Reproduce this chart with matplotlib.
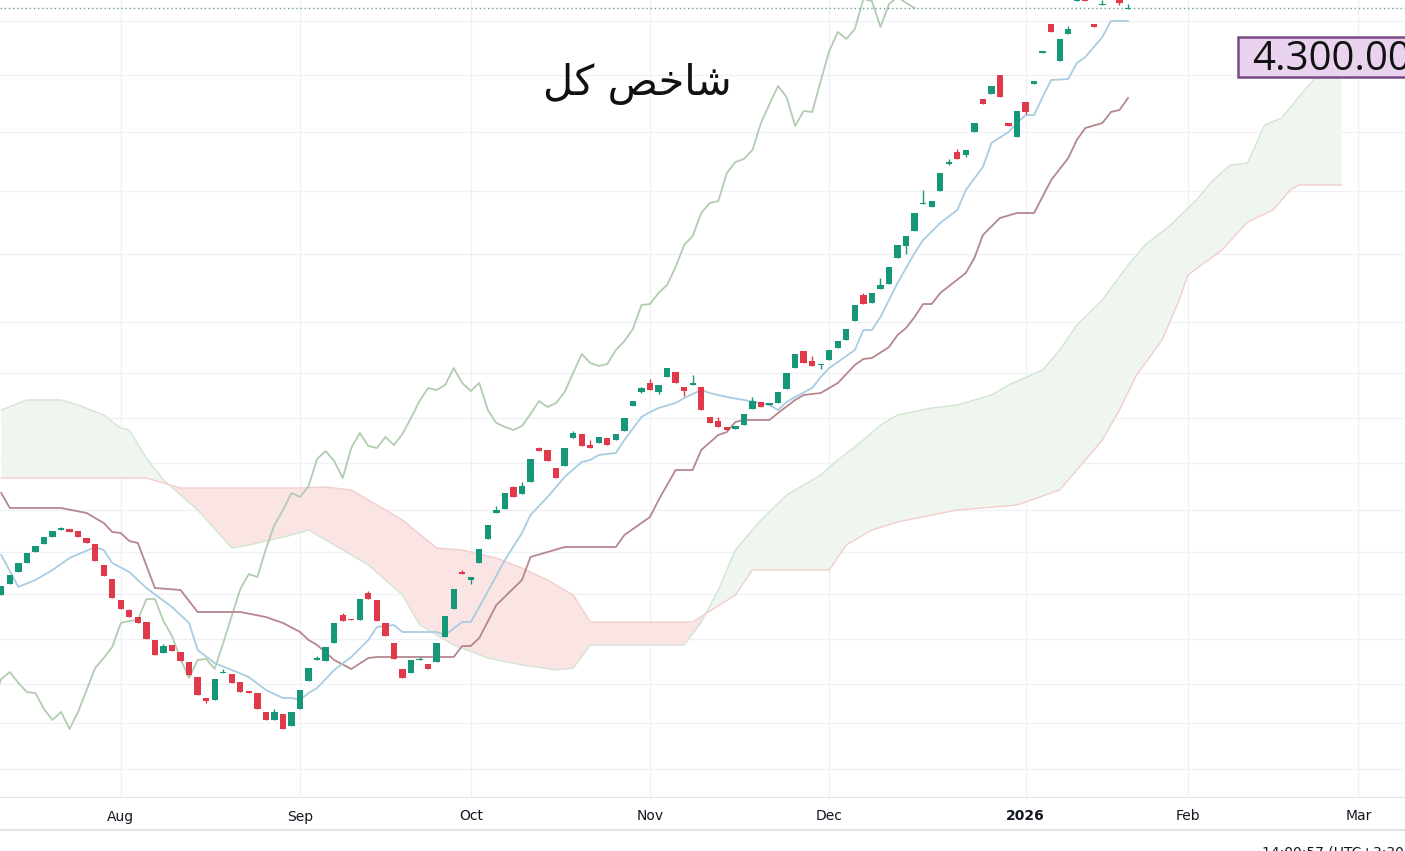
# Total index (شاخص کل) daily candles with Ichimoku cloud

import numpy as np
import matplotlib.pyplot as plt
from matplotlib.lines import Line2D

# daily candles (index 0 = first bar on screen), values in thousands
opens = [3210, 3232, 3256, 3274, 3296, 3312, 3326, 3340, 3342, 3338,
         3324, 3312, 3270, 3242, 3200, 3180, 3166, 3156, 3120, 3094,
         3110, 3096, 3076, 3046, 3004, 3000, 3054, 3052, 3036, 3018,
         3014, 2976, 2960, 2972, 2948, 2982, 3038, 3080, 3078, 3114,
         3170, 3162, 3160, 3214, 3200, 3154, 3114, 3062, 3054, 3080,
         3072, 3076, 3126, 3182, 3256, 3240, 3274, 3322, 3374, 3382,
         3426, 3412, 3436, 3504, 3500, 3464, 3468, 3524, 3532, 3510,
         3514, 3524, 3520, 3538, 3588, 3616, 3634, 3616, 3646, 3656,
         3626, 3630, 3626, 3566, 3558, 3546, 3542, 3550, 3582, 3596,
         3590, 3594, 3622, 3664, 3698, 3678, 3670, 3680, 3704, 3720,
         3758, 3810, 3794, 3822, 3832, 3884, 3908, 3938, 3992, 3986,
         4018, 4072, 4096, 4090, 4136, 4202, 4212, 4250, 4154, 4126,
         4196, 4232, 4294, 4352, 4278, 4332, 4398, 4404, 4352, 4390,
         4416, 4400, 4382]
highs = [3228, 3250, 3274, 3294, 3308, 3326, 3338, 3346, 3342, 3338,
         3324, 3312, 3270, 3242, 3200, 3182, 3166, 3156, 3120, 3112,
         3110, 3096, 3076, 3046, 3004, 3042, 3062, 3052, 3036, 3018,
         3014, 2976, 2982, 2972, 2976, 3020, 3064, 3088, 3106, 3154,
         3174, 3162, 3202, 3218, 3200, 3154, 3114, 3062, 3080, 3086,
         3072, 3114, 3168, 3222, 3260, 3246, 3302, 3350, 3388, 3414,
         3428, 3436, 3482, 3506, 3500, 3464, 3504, 3538, 3532, 3520,
         3526, 3524, 3532, 3564, 3598, 3626, 3642, 3630, 3664, 3656,
         3626, 3650, 3626, 3566, 3566, 3546, 3548, 3572, 3606, 3596,
         3594, 3616, 3654, 3692, 3698, 3688, 3672, 3700, 3718, 3742,
         3790, 3814, 3814, 3844, 3866, 3910, 3928, 3974, 4020, 3998,
         4054, 4082, 4102, 4100, 4154, 4202, 4228, 4250, 4154, 4178,
         4196, 4238, 4298, 4352, 4322, 4348, 4412, 4404, 4352, 4400,
         4416, 4400, 4392]
lows = [3210, 3232, 3256, 3274, 3296, 3312, 3326, 3340, 3336, 3326,
        3314, 3278, 3248, 3204, 3182, 3166, 3154, 3122, 3090, 3094,
        3098, 3078, 3050, 3010, 2994, 3000, 3054, 3034, 3016, 3014,
        2982, 2960, 2960, 2942, 2948, 2982, 3038, 3080, 3078, 3114,
        3158, 3160, 3160, 3202, 3158, 3128, 3082, 3044, 3054, 3080,
        3062, 3076, 3126, 3182, 3252, 3232, 3274, 3322, 3374, 3382,
        3406, 3412, 3436, 3498, 3478, 3444, 3468, 3524, 3508, 3504,
        3514, 3510, 3520, 3538, 3588, 3614, 3620, 3612, 3646, 3634,
        3608, 3630, 3580, 3554, 3546, 3540, 3542, 3550, 3582, 3586,
        3590, 3594, 3622, 3664, 3674, 3668, 3662, 3680, 3704, 3720,
        3758, 3792, 3794, 3822, 3832, 3884, 3892, 3938, 3992, 3986,
        4018, 4070, 4082, 4086, 4136, 4192, 4212, 4206, 4148, 4126,
        4172, 4232, 4294, 4336, 4278, 4332, 4398, 4398, 4346, 4390,
        4406, 4390, 4382]
closes = [3228, 3250, 3274, 3294, 3308, 3326, 3338, 3344, 3336, 3326,
          3314, 3278, 3248, 3204, 3182, 3166, 3154, 3122, 3090, 3108,
          3098, 3078, 3050, 3010, 2998, 3042, 3056, 3034, 3016, 3014,
          2982, 2960, 2976, 2942, 2976, 3020, 3064, 3084, 3106, 3154,
          3158, 3160, 3202, 3202, 3158, 3128, 3082, 3044, 3080, 3082,
          3062, 3114, 3168, 3222, 3252, 3246, 3302, 3350, 3380, 3414,
          3406, 3428, 3482, 3498, 3478, 3444, 3504, 3534, 3508, 3504,
          3526, 3510, 3532, 3564, 3598, 3624, 3620, 3630, 3664, 3634,
          3618, 3634, 3580, 3554, 3546, 3540, 3548, 3572, 3598, 3586,
          3594, 3616, 3654, 3692, 3674, 3668, 3672, 3700, 3718, 3742,
          3790, 3792, 3814, 3830, 3866, 3910, 3928, 3974, 3994, 3998,
          4054, 4076, 4082, 4100, 4154, 4192, 4228, 4206, 4148, 4178,
          4176, 4238, 4298, 4336, 4322, 4342, 4402, 4398, 4346, 4392,
          4406, 4394, 4384]

# Ichimoku lines, read as (bar index, value) vertices
tenkan_x = [0, 2, 4, 6, 8, 11, 12, 13, 15, 17, 20, 22, 23, 25, 27, 29, 31, 33, 34, 35,
            36, 37, 39, 41, 43, 44, 46, 47, 51, 52, 54, 55, 56, 59, 61, 62, 64, 66, 68, 69,
            70, 72, 73, 75, 76, 77, 79, 80, 82, 83, 85, 87, 90, 91, 92, 93, 95, 96, 97, 100,
            101, 102, 103, 105, 107, 108, 110, 112, 113, 115, 116, 118, 119, 120, 121, 122, 123, 125, 126, 127,
            129, 130, 132]
tenkan = [3290, 3226, 3240, 3260, 3284, 3306, 3300, 3274, 3256, 3224, 3186, 3154, 3100, 3074, 3060, 3046, 3020, 3004, 3004, 3000,
          3014, 3024, 3060, 3086, 3120, 3146, 3150, 3136, 3136, 3130, 3156, 3156, 3186, 3280, 3334, 3370, 3406, 3446, 3476, 3480,
          3490, 3494, 3520, 3566, 3576, 3584, 3594, 3604, 3620, 3614, 3606, 3600, 3590, 3580, 3596, 3606, 3624, 3646, 3664, 3700,
          3740, 3740, 3766, 3834, 3894, 3920, 3954, 3980, 4020, 4066, 4114, 4136, 4154, 4170, 4170, 4206, 4240, 4242, 4274, 4286,
          4326, 4358, 4358]

kijun_x = [0, 1, 7, 10, 12, 13, 14, 15, 16, 18, 21, 23, 28, 31, 33, 35, 36, 37, 39, 41,
           43, 44, 53, 54, 55, 56, 58, 61, 62, 66, 72, 73, 76, 77, 79, 81, 82, 84, 85, 86,
           87, 90, 91, 93, 94, 96, 98, 100, 101, 102, 104, 105, 106, 107, 108, 109, 110, 113, 114, 115,
           117, 119, 121, 123, 125, 126, 127, 129, 130, 131, 132]
kijun = [3414, 3384, 3384, 3374, 3354, 3336, 3334, 3318, 3314, 3224, 3220, 3176, 3176, 3166, 3154, 3136, 3120, 3110, 3080, 3062,
         3084, 3086, 3086, 3108, 3108, 3124, 3190, 3240, 3286, 3306, 3306, 3330, 3366, 3400, 3460, 3460, 3500, 3530, 3536, 3556,
         3560, 3560, 3574, 3600, 3610, 3614, 3634, 3670, 3682, 3684, 3706, 3730, 3744, 3766, 3792, 3792, 3814, 3854, 3884, 3930,
         3964, 3974, 3974, 4040, 4084, 4120, 4144, 4154, 4176, 4180, 4204]

span_a_x = [0, 3, 7, 9, 12, 14, 15, 17, 19, 23, 27, 29, 34, 36, 38, 43, 47, 49, 53, 57,
            61, 65, 67, 69, 80, 82, 84, 86, 89, 92, 96, 98, 101, 103, 105, 109, 112, 116, 118, 122,
            124, 126, 129, 132, 134, 137, 140, 142, 144, 146, 148, 150, 152, 154, 155, 157]
span_a = [3580, 3600, 3600, 3590, 3570, 3544, 3540, 3484, 3440, 3380, 3304, 3310, 3330, 3340, 3320, 3270, 3210, 3150, 3110, 3084,
          3070, 3060, 3064, 3110, 3110, 3156, 3220, 3300, 3360, 3410, 3450, 3480, 3520, 3550, 3570, 3584, 3590, 3610, 3630, 3660,
          3700, 3750, 3800, 3870, 3910, 3950, 4000, 4040, 4070, 4074, 4150, 4164, 4206, 4246, 4270, 4276]

span_b_x = [0, 17, 21, 35, 38, 41, 47, 51, 54, 58, 61, 64, 67, 69, 81, 86, 88, 97, 99, 102,
            105, 109, 112, 119, 124, 126, 129, 131, 133, 136, 138, 139, 143, 146, 149, 151, 152, 157]
span_b = [3444, 3444, 3424, 3424, 3426, 3420, 3360, 3304, 3300, 3284, 3264, 3240, 3210, 3156, 3156, 3210, 3260, 3260, 3310, 3340,
          3356, 3370, 3380, 3390, 3420, 3460, 3520, 3580, 3650, 3720, 3800, 3850, 3900, 3956, 3980, 4020, 4030, 4030]

lag = 25  # chikou span: close plotted 25 bars back

# axis labels and price levels
month_pos = [14, 35, 55, 76, 97, 120, 139, 159]
month_labels = ['Aug', 'Sep', 'Oct', 'Nov', 'Dec', '2026', 'Feb', 'Mar']
grid_levels = [4358, 4250, 4136, 4018, 3892, 3756, 3654, 3564, 3474, 3380,
               3296, 3212, 3122, 3032, 2954, 2862]
marked_level = '4.300.000'

up_color = '#16977a'
down_color = '#e0394a'

fig = plt.figure(figsize=(14.05, 8.51), dpi=100)
ax = fig.add_axes([0, 54 / 851, 1, 797 / 851])

# cloud fill between the leading spans
cx = np.linspace(0, span_a_x[-1], 1200)
ca = np.interp(cx, span_a_x, span_a)
cb = np.interp(cx, span_b_x, span_b)
ax.fill_between(cx, ca, cb, where=ca >= cb, interpolate=True, color='#eff6ef', lw=0, zorder=1)
ax.fill_between(cx, ca, cb, where=ca < cb, interpolate=True, color='#fbe4e4', lw=0, zorder=1)
ax.plot(span_a_x, span_a, color='#d3e5d3', lw=1, zorder=2)
ax.plot(span_b_x, span_b, color='#f3cdcd', lw=1, zorder=2)

# lagging span, base line, conversion line
idx = np.arange(len(closes))
ax.plot(idx - lag, closes, color='#b2ccb0', lw=1.3, zorder=2)
ax.plot(kijun_x, kijun, color='#b5878d', lw=1.3, zorder=2)
ax.plot(tenkan_x, tenkan, color='#a8cce2', lw=1.3, zorder=2)

# candles
o = np.array(opens)
c = np.array(closes)
colors = [up_color if cc >= oo else down_color for oo, cc in zip(o, c)]
body = np.maximum(np.abs(c - o), 2.5)
ax.vlines(idx, lows, highs, colors=colors, lw=1, zorder=3)
ax.bar(idx, body, bottom=np.minimum(o, c), width=0.74, color=colors, lw=0, zorder=4)

# last price line
ax.axhline(closes[-1], color='#6f9c96', lw=1, ls=(0, (1, 2)), zorder=2)

ax.set_xlim(-0.15, 164.45)
ax.set_ylim(2806, 4400)

ax.set_xticks(month_pos)
ax.set_xticklabels(month_labels)
ax.set_yticks(grid_levels)
ax.tick_params(axis='x', length=0, pad=9, labelsize=10, labelcolor='#131722')
ax.tick_params(axis='y', left=False, labelleft=False)
ax.get_xticklabels()[5].set_fontweight('bold')
ax.grid(color='#f0f1f4', lw=1, zorder=0)
ax.set_axisbelow(True)
for side in ['top', 'left', 'right']:
    ax.spines[side].set_visible(False)
ax.spines['bottom'].set_color('#e0e3eb')

# title (presentation forms in visual order)
ax.text(0.454, 0.895, '\ufede\ufb90 \ufeba\ufea7\ufe8e\ufeb7', transform=ax.transAxes,
        ha='center', va='center', fontsize=30, color='#111111', family=['DejaVu Sans'])

# price marker box at right edge
ax.add_patch(plt.Rectangle((0.8811, 0.9034), 0.2, 0.0502, transform=ax.transAxes,
                           facecolor='#ead3ef', edgecolor='#7a4a86', lw=1.8, zorder=5, clip_on=True))
ax.text(0.8915, 0.925, marked_level, transform=ax.transAxes, ha='left', va='center',
        fontsize=29, color='#111111', family=['Open Sans', 'DejaVu Sans'], zorder=6, clip_on=True)

# separator under the time axis and clipped footer text
fig.add_artist(Line2D([0, 1], [21 / 851, 21 / 851], color='#e3e5ea', lw=1.5))
fig.text(1262 / 1405, 6 / 851, '14:00:57 (UTC+3:30)', ha='left', va='top',
         fontsize=10, color='#131722')

fig.savefig('out.png', dpi=100)
